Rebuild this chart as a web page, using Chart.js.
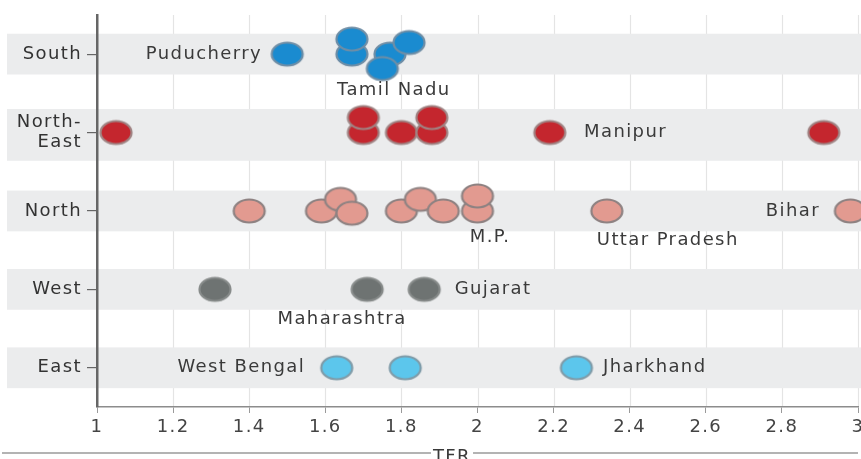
<!DOCTYPE html>
<html>
<head>
<meta charset="utf-8">
<title>TFR by region</title>
<style>
  html, body { margin: 0; padding: 0; background: #fff; }
  #tfrChart { display: block; }
</style>
<script src="https://cdn.jsdelivr.net/npm/chart.js@4.4.1/dist/chart.umd.min.js"></script>
</head>
<body>
<canvas id="tfrChart" width="861" height="459"></canvas>
<script>
// regions, top to bottom
const regions = ["South", "North-East", "North", "West", "East"];

// TFR of each state, one list per region
const southTFR = [1.50, 1.67, 1.67, 1.77, 1.82, 1.75];
const northEastTFR = [1.05, 1.70, 1.70, 1.80, 1.88, 1.88, 2.19, 2.91];
const northTFR = [1.40, 1.59, 1.64, 1.67, 1.80, 1.85, 1.91, 2.00, 2.00, 2.34, 2.98];
const westTFR = [1.31, 1.71, 1.86];
const eastTFR = [1.63, 1.81, 2.26];

const xTicks = [1, 1.2, 1.4, 1.6, 1.8, 2, 2.2, 2.4, 2.6, 2.8, 3];

// state names written next to the dots
const labelNames = ["Puducherry", "Tamil Nadu", "Manipur", "Bihar", "M.P.",
    "Uttar Pradesh", "Gujarat", "Maharashtra", "West Bengal", "Jharkhand"];
const labelRegion = [0, 0, 1, 2, 2, 2, 3, 3, 4, 4];
const labelTFR = [1.434, 1.78, 2.28, 2.90, 2.033, 2.50, 1.94, 1.644, 1.547, 2.33];
const labelAlign = ["right", "center", "left", "right", "center",
    "center", "left", "center", "right", "left"];
const labelRowShift = [0, 0.46, 0, 0, 0.34, 0.38, 0, 0.38, 0, 0];

const regionTFR = [southTFR, northEastTFR, northTFR, westTFR, eastTFR];

// styling
const dotFill = ["#1a8bd0", "#c4262e", "#e29a90", "#6e7372", "#5cc6ec"];
const dotStroke = ["#6f8ea6", "#a08484", "#8e8282", "#878b8a", "#7f9ba8"];
const FONT = "'DejaVu Sans', sans-serif";
const SPACING = "1.4px";
const SWARM_W = 30;
const SWARM_H = 15;

function makeDot(fill, stroke) {
    const c = document.createElement("canvas");
    c.width = 36;
    c.height = 28;
    const g = c.getContext("2d");
    g.beginPath();
    g.ellipse(18, 14, 15.5, 11.5, 0, 0, Math.PI * 2);
    g.fillStyle = fill;
    g.fill();
    g.lineWidth = 2.2;
    g.strokeStyle = stroke;
    g.stroke();
    return c;
}

function regionLabel(name) {
    if (name.includes("-")) {
        const parts = name.split("-");
        return [parts[0] + "-", parts[1]];
    }
    return name;
}

// simple beeswarm: push overlapping dots up or down (pixels)
function swarmOffsets(values, xScale) {
    const placed = [];
    return values.map(v => {
        const px = xScale.getPixelForValue(v);
        const cands = [0];
        placed.forEach(p => {
            const dx = Math.abs(px - p.px);
            if (dx < SWARM_W) {
                const h = SWARM_H * Math.sqrt(1 - (dx / SWARM_W) ** 2);
                cands.push(p.dy - h, p.dy + h);
            }
        });
        cands.sort((a, b) => Math.abs(a) - Math.abs(b) || a - b);
        const dy = cands.find(c => placed.every(p =>
            ((px - p.px) / SWARM_W) ** 2 + ((c - p.dy) / SWARM_H) ** 2 >= 0.999
        ));
        placed.push({ px: px, dy: dy });
        return dy;
    });
}

const spacingPlugin = {
    id: "spacing",
    beforeUpdate(chart) { chart.ctx.letterSpacing = SPACING; },
    beforeDraw(chart) { chart.ctx.letterSpacing = SPACING; }
};

const backdropPlugin = {
    id: "backdrop",
    beforeDraw(chart) {
        const ctx = chart.ctx;
        const area = chart.chartArea;
        const xs = chart.scales.x;
        const ys = chart.scales.y;
        ctx.save();
        // vertical grid lines
        ctx.strokeStyle = "#e4e4e4";
        ctx.lineWidth = 1.2;
        xTicks.slice(1).forEach(t => {
            const px = Math.round(xs.getPixelForValue(t)) + 0.5;
            ctx.beginPath();
            ctx.moveTo(px, area.top);
            ctx.lineTo(px, area.bottom);
            ctx.stroke();
        });
        // grey bands behind each region
        ctx.fillStyle = "#ebeced";
        regions.forEach((r, i) => {
            const twoLine = r.includes("-");
            const half = twoLine ? 0.33 : 0.26;
            const centre = i + (twoLine ? 0.03 : 0);
            const top = ys.getPixelForValue(centre - half);
            const bottom = ys.getPixelForValue(centre + half);
            ctx.fillRect(7, top, chart.width - 7, bottom - top);
        });
        ctx.restore();
    }
};

const labelPlugin = {
    id: "stateLabels",
    afterDatasetsDraw(chart) {
        const ctx = chart.ctx;
        const xs = chart.scales.x;
        const ys = chart.scales.y;
        ctx.save();
        ctx.letterSpacing = SPACING;
        ctx.font = "18px " + FONT;
        ctx.fillStyle = "#3a3a3a";
        ctx.textBaseline = "middle";
        labelNames.forEach((name, i) => {
            ctx.textAlign = labelAlign[i];
            ctx.fillText(name,
                xs.getPixelForValue(labelTFR[i]),
                ys.getPixelForValue(labelRegion[i] + labelRowShift[i]));
        });
        ctx.restore();
    },
    afterDraw(chart) {
        // axis title with rules on both sides
        const ctx = chart.ctx;
        const area = chart.chartArea;
        ctx.save();
        ctx.letterSpacing = SPACING;
        ctx.font = "18px " + FONT;
        ctx.fillStyle = "#3a3a3a";
        ctx.textAlign = "center";
        ctx.textBaseline = "alphabetic";
        const cx = 452;
        ctx.fillText("TFR", cx, 462);
        const w = ctx.measureText("TFR").width;
        ctx.strokeStyle = "#9a9a9a";
        ctx.lineWidth = 1.5;
        ctx.beginPath();
        ctx.moveTo(2, 453);
        ctx.lineTo(cx - w / 2 - 2, 453);
        ctx.moveTo(cx + w / 2 + 2, 453);
        ctx.lineTo(area.right, 453);
        ctx.stroke();
        ctx.restore();
    }
};

const datasets = regions.map((r, i) => ({
    label: r,
    data: regionTFR[i].map(v => ({ x: v, y: i })),
    pointStyle: makeDot(dotFill[i], dotStroke[i]),
    pointRadius: 16,
    pointHoverRadius: 16,
    showLine: false,
    clip: false
}));

const myChart = new Chart(document.getElementById("tfrChart"), {
    type: "scatter",
    data: { datasets: datasets },
    plugins: [spacingPlugin, backdropPlugin, labelPlugin],
    options: {
        responsive: false,
        animation: false,
        devicePixelRatio: 1,
        layout: {
            autoPadding: false,
            padding: { top: 13, right: 3, left: 0, bottom: 0 }
        },
        plugins: {
            legend: { display: false },
            tooltip: { enabled: false }
        },
        scales: {
            x: {
                type: "linear",
                min: 1,
                max: 3,
                afterBuildTicks: scale => {
                    scale.ticks = xTicks.map(v => ({ value: v }));
                },
                afterFit: scale => {
                    scale.paddingLeft = 0;
                    scale.paddingRight = 0;
                    scale.height = 52;
                },
                grid: {
                    drawOnChartArea: false,
                    drawTicks: true,
                    tickLength: 6,
                    color: "#9a9a9a"
                },
                border: { color: "#8c8c8c", width: 1.5 },
                ticks: {
                    autoSkip: false,
                    maxRotation: 0,
                    padding: 4,
                    color: "#444",
                    font: { family: FONT, size: 18 },
                    callback: v => String(v)
                }
            },
            y: {
                type: "linear",
                min: -0.5,
                max: 4.5,
                reverse: true,
                afterBuildTicks: scale => {
                    scale.ticks = regions.map((r, i) => ({ value: i }));
                },
                afterFit: scale => {
                    scale.width = 97;
                },
                grid: {
                    drawOnChartArea: false,
                    drawTicks: true,
                    tickLength: 10,
                    color: "#666",
                    lineWidth: 1.2
                },
                border: { color: "#666", width: 2.5 },
                ticks: {
                    padding: 5,
                    color: "#333",
                    font: { family: FONT, size: 18, lineHeight: 1.1 },
                    callback: v => regionLabel(regions[v])
                }
            }
        }
    }
});

// place overlapping dots in a swarm, using the chart's own scales
const rowPx = Math.abs(myChart.scales.y.getPixelForValue(1) - myChart.scales.y.getPixelForValue(0));
regionTFR.forEach((vals, i) => {
    const offs = swarmOffsets(vals, myChart.scales.x);
    myChart.data.datasets[i].data = vals.map((v, k) => ({ x: v, y: i + offs[k] / rowPx }));
});
myChart.update("none");
</script>
</body>
</html>
